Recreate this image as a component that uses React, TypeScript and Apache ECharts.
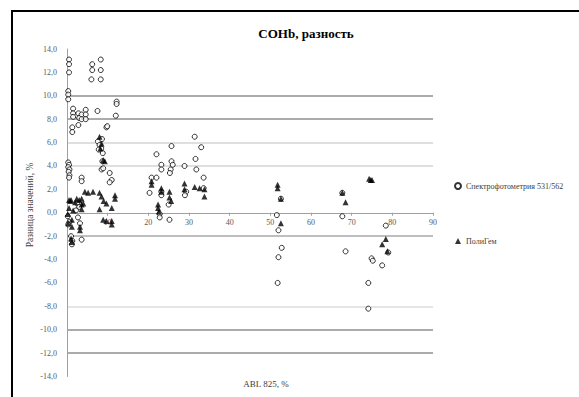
import React, { useEffect, useRef } from "react";
import * as echarts from "echarts";

const titleText = "COHb, разность";
const xAxisName = "ABL 825, %";
const yAxisName = "Разница значений, %";
const seriesNames = ["Спектрофотометрия 531/562", "ПолиГем"];

const spectroPoints: number[][] = [
  [0.5, 13.1], [0.5, 12.7], [0.5, 12.0],
  [0.3, 10.4], [0.3, 10.1], [0.3, 9.7],
  [1.5, 8.9], [1.5, 8.5], [1.5, 8.2], [2.8, 8.5], [3.0, 8.1], [3.6, 8.4], [3.6, 8.0],
  [4.6, 8.8], [4.6, 8.4], [4.6, 8.0],
  [1.3, 7.3], [1.3, 6.9], [2.8, 7.5],
  [0.3, 4.3], [0.5, 4.1], [0.3, 3.9], [0.6, 3.7], [0.4, 3.5], [0.6, 3.2], [0.5, 3.0],
  [3.6, 3.0], [3.6, 2.7],
  [0.2, -0.3], [0.6, -0.8], [0.3, -1.0], [2.7, -0.4], [3.2, -0.9],
  [1.0, -2.0], [1.3, -2.4], [1.2, -2.7], [3.6, -2.3],
  [2.5, 0.8], [3.0, 0.5], [2.2, 0.2],
  [6.2, 12.7], [6.2, 12.2], [8.3, 13.1], [8.3, 12.2], [6.0, 11.4], [8.3, 11.4],
  [12.2, 9.5], [12.2, 9.3], [12.0, 8.3], [7.5, 8.7],
  [9.7, 7.3], [9.9, 7.4],
  [7.6, 6.1], [8.0, 5.8], [8.4, 5.5], [8.8, 5.1], [7.8, 5.4], [8.6, 6.3],
  [8.5, 3.7], [8.9, 3.8], [8.7, 4.4],
  [10.5, 3.4], [11.0, 2.8], [10.5, 2.6],
  [31.4, 6.5], [25.7, 5.7], [33.0, 5.6], [22.0, 5.0], [31.6, 4.6], [23.2, 4.1], [23.2, 3.7],
  [25.7, 4.4], [26.0, 4.1], [25.5, 3.7], [25.3, 3.4], [28.9, 4.0], [31.8, 3.7], [20.8, 3.0],
  [22.0, 3.0], [20.3, 1.7], [23.2, 1.8], [23.2, 1.5], [33.6, 3.0], [33.6, 2.1], [29.3, 1.8],
  [29.0, 1.5], [22.8, -0.1], [22.8, -0.4], [25.2, -0.6], [25.0, 0.7],
  [51.6, -0.2], [52.6, 1.2], [52.0, -1.5], [52.8, -3.0], [52.0, -3.8], [51.8, -6.0],
  [67.7, 1.7], [67.7, -0.3], [68.5, -3.3],
  [78.4, -1.1], [74.9, -3.9], [75.2, -4.1], [77.5, -4.5], [74.1, -6.0], [74.1, -8.2], [79.0, -3.4],
];

const poligemPoints: number[][] = [
  [0.5, 1.1], [0.8, 1.0], [1.0, 1.1], [2.4, 1.2], [3.0, 1.1], [3.6, 1.2], [4.4, 1.8], [5.2, 1.7],
  [6.4, 1.8], [3.6, 0.7], [3.6, 0.3], [1.2, -0.6], [1.2, -1.2], [3.2, -1.2], [3.2, -1.5],
  [0.3, -0.9], [0.5, 0.4], [1.5, 0.2], [0.2, -0.1], [2.0, 0.9], [4.0, 0.8],
  [1.0, -2.2], [1.2, -2.5],
  [8.0, 1.7], [8.5, 1.4], [9.0, 1.0], [9.7, 0.8], [8.0, 0.3], [8.9, -0.6], [9.7, -0.7],
  [11.0, 0.4], [11.0, -0.7], [11.0, -1.0], [11.8, 1.5], [11.8, 1.2],
  [8.9, 4.5], [9.3, 4.4], [8.0, 6.5], [8.5, 5.9], [8.2, 5.5],
  [20.8, 2.7], [20.8, 2.4], [23.2, 2.1], [23.2, 1.8], [22.4, 0.7], [22.4, 0.4], [22.6, 0.1],
  [25.2, 1.8], [25.2, 1.3], [25.6, 1.0], [28.9, 2.5], [28.9, 2.0], [31.4, 2.2], [32.6, 2.1],
  [33.8, 2.0], [33.8, 1.4],
  [51.8, 2.4], [51.8, 2.1], [52.6, 1.2], [52.6, -0.9],
  [67.7, 1.7], [68.5, 0.9],
  [74.3, 2.9], [74.7, 2.8], [75.0, 2.8], [78.4, -2.25], [77.5, -2.7], [78.8, -3.3],
];

// grid line colours from -14 up to 14 (step 2)
const gridLineColors = [
  "rgba(0,0,0,0)", "#8f8f8f", "#8f8f8f", "#dcdcdc", "rgba(0,0,0,0)", "rgba(0,0,0,0)",
  "#a8a8a8", "rgba(0,0,0,0)", "rgba(0,0,0,0)", "#d4d4d4", "#d4d4d4", "#8f8f8f", "#8f8f8f",
  "rgba(0,0,0,0)", "rgba(0,0,0,0)",
];

const FONT = "Liberation Serif";
const GRID_TOP = 49;
const GRID_BOTTOM = 20.5;
const CHART_H = 397;

export default function App() {
  const ref = useRef<HTMLDivElement>(null);
  useEffect(() => {
    if (!ref.current) return;
    const chart = echarts.init(ref.current, undefined, { renderer: "svg" });
    const gridH = CHART_H - GRID_TOP - GRID_BOTTOM;
    const yMin = -14;
    const yMax = 14;
    const zeroOffset = -gridH * ((0 - yMin) / (yMax - yMin));
    chart.setOption({
      animation: false,
      backgroundColor: "#ffffff",
      textStyle: { fontFamily: FONT },
      title: {
        text: titleText,
        left: 301,
        top: 22,
        textAlign: "center",
        textStyle: { fontFamily: FONT, fontSize: 13, fontWeight: "bold", color: "#000" },
      },
      grid: { left: 67, right: 146, top: GRID_TOP, bottom: GRID_BOTTOM, containLabel: false },
      legend: {
        orient: "vertical",
        left: 449,
        top: 177,
        itemGap: 47,
        itemWidth: 6,
        itemHeight: 6,
        textStyle: { fontFamily: FONT, fontSize: 8, color: "#404040" },
        data: [{ name: seriesNames[0] }, { name: seriesNames[1] }],
      },
      xAxis: {
        type: "value",
        min: 0,
        max: 90,
        interval: 10,
        position: "bottom",
        offset: zeroOffset,
        axisLine: { onZero: false, lineStyle: { color: "#a0a0a0", width: 1 } },
        axisTick: { show: true, length: 3, lineStyle: { color: "#a0a0a0" } },
        axisLabel: {
          fontFamily: FONT,
          fontSize: 8,
          color: "#595959",
          margin: 6,
          formatter: (v: number) => (v === 0 ? "" : String(v)),
        },
        splitLine: { show: false },
      },
      yAxis: {
        type: "value",
        min: yMin,
        max: yMax,
        interval: 2,
        axisLine: { show: true, onZero: false, lineStyle: { color: "#a0a0a0", width: 1 } },
        axisTick: { show: false },
        axisLabel: {
          fontFamily: FONT,
          fontSize: 8,
          color: "#595959",
          margin: 10,
          formatter: (v: number) => v.toFixed(1).replace(".", ","),
        },
        splitLine: { show: true, lineStyle: { color: gridLineColors, width: 1.5 } },
      },
      series: [
        {
          name: seriesNames[0],
          type: "scatter",
          symbol: "circle",
          symbolSize: 5,
          itemStyle: { color: "#ffffff", borderColor: "#000000", borderWidth: 1 },
          data: spectroPoints,
          z: 3,
        },
        {
          name: seriesNames[1],
          type: "scatter",
          symbol: "triangle",
          symbolSize: 6,
          itemStyle: { color: "#000000" },
          data: poligemPoints,
          z: 4,
        },
      ],
      graphic: [
        {
          type: "line",
          shape: { x1: 12, y1: 11, x2: 12, y2: 397 },
          style: { stroke: "#000", lineWidth: 2 },
        },
        {
          type: "line",
          shape: { x1: 11, y1: 11, x2: 579, y2: 11 },
          style: { stroke: "#000", lineWidth: 2 },
        },
        {
          type: "text",
          x: 30,
          y: 205,
          rotation: Math.PI / 2,
          style: {
            text: yAxisName,
            fontFamily: FONT,
            fontSize: 9.5,
            fill: "#404040",
            align: "center",
            verticalAlign: "middle",
          },
        },
        {
          type: "text",
          x: 266,
          y: 384,
          style: {
            text: xAxisName,
            fontFamily: FONT,
            fontSize: 9,
            fill: "#404040",
            align: "center",
            verticalAlign: "middle",
          },
        },
      ],
    });
    return () => chart.dispose();
  }, []);
  return (
    <div
      ref={ref}
      style={{ position: "fixed", left: 0, top: 0, width: 579, height: 397 }}
    />
  );
}
